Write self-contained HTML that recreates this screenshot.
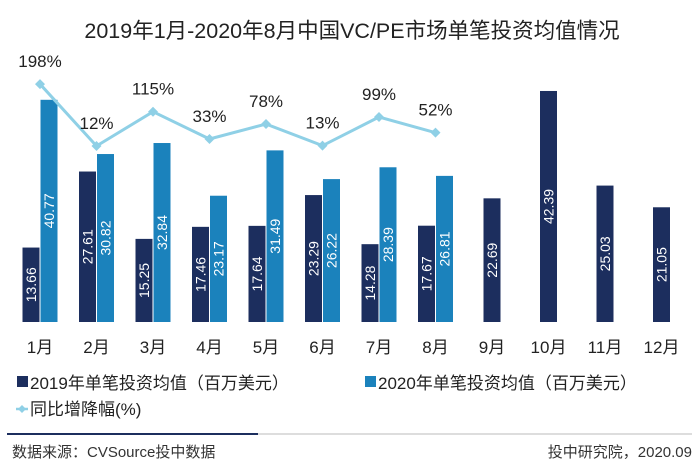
<!DOCTYPE html>
<html><head><meta charset="utf-8"><style>
body{margin:0;background:#fff;}
svg text{font-family:"Liberation Sans","Noto Sans CJK SC",sans-serif;}
</style></head><body>
<svg width="700" height="466" viewBox="0 0 700 466">
<text x="352" y="38" text-anchor="middle" font-size="21.5" fill="#222">2019年1月-2020年8月中国VC/PE市场单笔投资均值情况</text>
<g id="bars"></g>
<g id="line"></g>
<g id="xlabels"></g>
<g>
<rect x="17" y="376" width="11" height="11" fill="#1c2e5e"/>
<text x="30" y="389" font-size="17" fill="#222">2019年单笔投资均值（百万美元）</text>
<rect x="365" y="376" width="11" height="11" fill="#1b82bc"/>
<text x="378" y="389" font-size="17" fill="#222">2020年单笔投资均值（百万美元）</text>
<line x1="16" y1="409" x2="28" y2="409" stroke="#8fd0e6" stroke-width="2.5"/>
<path d="M22 405 L26 409 L22 413 L18 409Z" fill="#8fd0e6"/>
<text x="30" y="415" font-size="17" fill="#222">同比增降幅(%)</text>
</g>
<line x1="7" y1="434" x2="258" y2="434" stroke="#1c2e5e" stroke-width="2"/>
<line x1="258" y1="434" x2="692" y2="434" stroke="#ddd" stroke-width="2"/>
<text x="12" y="457" font-size="15" fill="#333">数据来源：CVSource投中数据</text>
<text x="692" y="457" font-size="15" fill="#333" text-anchor="end">投中研究院，2020.09</text>
</svg>
<script>
const months=["1月","2月","3月","4月","5月","6月","7月","8月","9月","10月","11月","12月"];
const values2019=[13.66,27.61,15.25,17.46,17.64,23.29,14.28,17.67,22.69,42.39,25.03,21.05];
const values2020=[40.77,30.82,32.84,23.17,31.49,26.22,28.39,26.81];
const growth=[198,12,115,33,78,13,99,52];
const growthLabels=["198%","12%","115%","33%","78%","13%","99%","52%"];
const NS="http://www.w3.org/2000/svg";
const base=322, k=5.45, bw=17;
const xc=i=>40+i*56.5;
const yv=v=>base-v*k;
const yg=v=>150-v*0.333;
function mk(tag,attrs,parent){const e=document.createElementNS(NS,tag);for(const a in attrs)e.setAttribute(a,attrs[a]);parent.appendChild(e);return e;}
const bars=document.getElementById('bars'),line=document.getElementById('line'),xl=document.getElementById('xlabels');
function bar(cx,v,color,name){
 const r=mk('rect',{x:cx-bw/2,y:yv(v),width:bw,height:v*k,fill:color},bars);
 
 
 const cy=(yv(v)+base)/2;
 const t=mk('text',{x:cx,y:cy,'font-size':14,fill:'#fff','text-anchor':'middle','dominant-baseline':'central',transform:`rotate(-90 ${cx} ${cy})`},bars);
 t.textContent=v.toFixed(2);
 
 
}
months.forEach((m,i)=>{
 const has=i<values2020.length;
 if(has){bar(xc(i)-9,values2019[i],'#1c2e5e','bar-2019-'+(i+1));bar(xc(i)+9,values2020[i],'#1b82bc','bar-2020-'+(i+1));}
 else bar(xc(i),values2019[i],'#1c2e5e','bar-2019-'+(i+1));
 const t=mk('text',{x:xc(i),y:353,'font-size':17,fill:'#222','text-anchor':'middle'},xl);
 t.textContent=m;
 
 
});
const pts=growth.map((g,i)=>[xc(i),yg(g)]);
const pl=mk('polyline',{points:pts.map(p=>p.join(',')).join(' '),fill:'none',stroke:'#8fd0e6','stroke-width':3},line);


pts.forEach((p,i)=>{
 const d=mk('path',{d:`M${p[0]} ${p[1]-5} L${p[0]+5} ${p[1]} L${p[0]} ${p[1]+5} L${p[0]-5} ${p[1]}Z`,fill:'#8fd0e6'},line);
 
 
 const t=mk('text',{x:p[0],y:p[1]-17,'font-size':17,fill:'#222','text-anchor':'middle'},line);
 t.textContent=growthLabels[i];
 
 
});
</script>
</body></html>
